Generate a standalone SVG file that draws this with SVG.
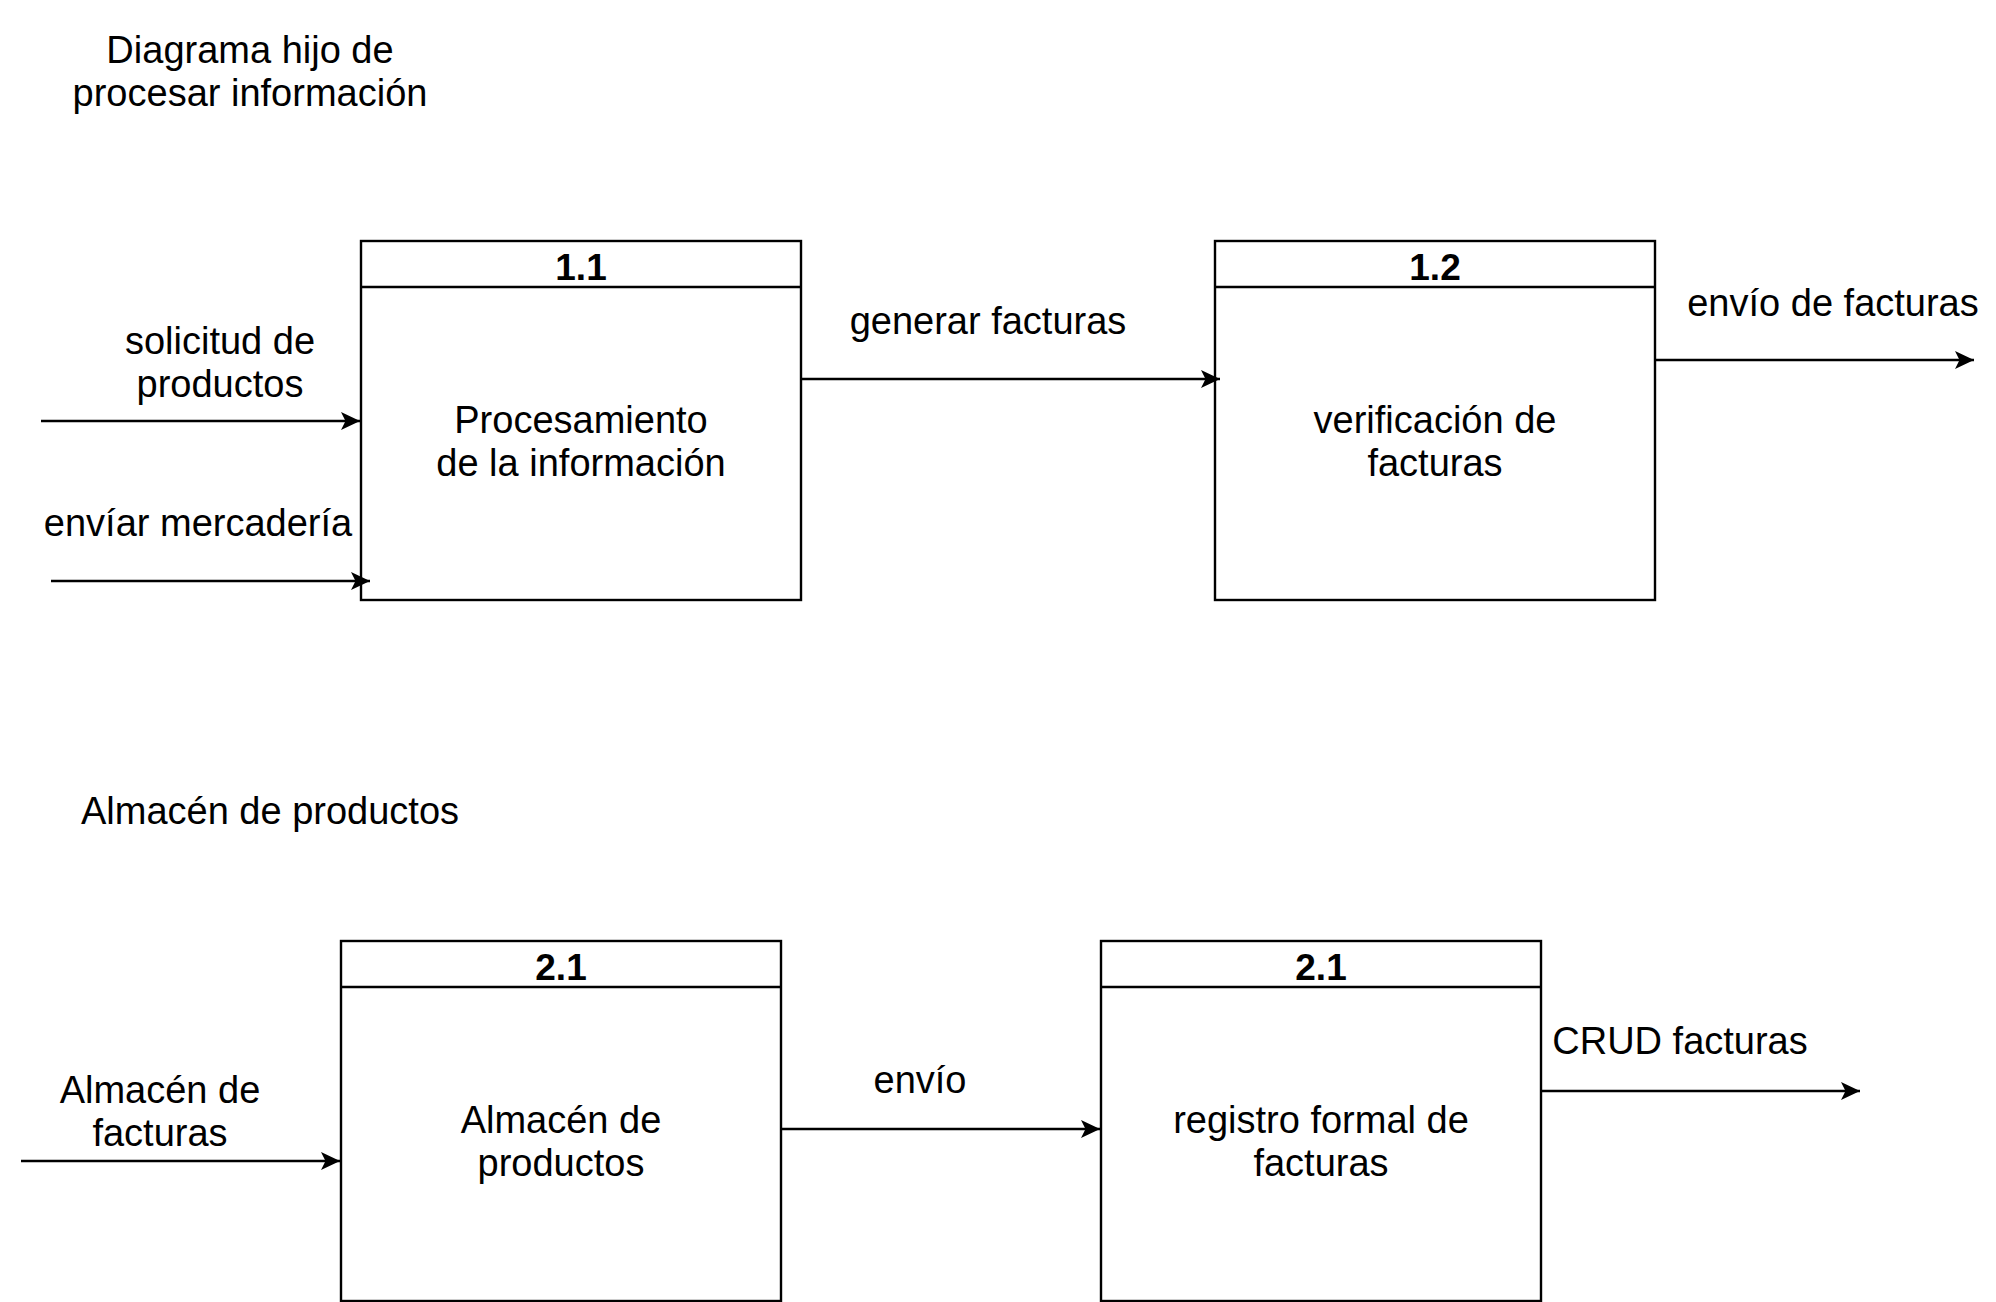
<svg xmlns="http://www.w3.org/2000/svg" width="1996" height="1302" viewBox="0 0 1996 1302">
<style>
text{font-family:"Liberation Sans",Arial,Helvetica,sans-serif;font-size:38px;fill:#000;text-anchor:middle}
.h{font-weight:bold;font-size:37px}
.box{fill:#fff;stroke:#000;stroke-width:2.4}
.edge{fill:none;stroke:#000;stroke-width:2.4}
</style>
<defs>
<marker id="arr" markerUnits="userSpaceOnUse" markerWidth="22" markerHeight="22" viewBox="0 0 22 22" refX="20" refY="11" orient="auto">
<path d="M1,2 L20,11 L1,20 L5.5,11 Z" fill="#000"/>
</marker>
</defs>
<rect width="1996" height="1302" fill="#fff"/>
<g id="title1"><text x="250" y="63">Diagrama hijo de</text><text x="250" y="106">procesar información</text></g>
<g id="title2"><text x="270" y="824">Almacén de productos</text></g>
<g id="n11">
<rect class="box" x="361" y="241" width="440" height="359"/>
<line class="edge" x1="361" y1="287" x2="801" y2="287"/>
<text class="h" x="581" y="280">1.1</text>
<text x="581" y="433">Procesamiento</text><text x="581" y="476">de la información</text>
</g>
<g id="n12">
<rect class="box" x="1215" y="241" width="440" height="359"/>
<line class="edge" x1="1215" y1="287" x2="1655" y2="287"/>
<text class="h" x="1435" y="280">1.2</text>
<text x="1435" y="433">verificación de</text><text x="1435" y="476">facturas</text>
</g>
<g id="n21">
<rect class="box" x="341" y="941" width="440" height="360"/>
<line class="edge" x1="341" y1="987" x2="781" y2="987"/>
<text class="h" x="561" y="980">2.1</text>
<text x="561" y="1133">Almacén de</text><text x="561" y="1176">productos</text>
</g>
<g id="n22">
<rect class="box" x="1101" y="941" width="440" height="360"/>
<line class="edge" x1="1101" y1="987" x2="1541" y2="987"/>
<text class="h" x="1321" y="980">2.1</text>
<text x="1321" y="1133">registro formal de</text><text x="1321" y="1176">facturas</text>
</g>
<g id="edges">
<line class="edge" x1="41" y1="421" x2="360" y2="421" marker-end="url(#arr)"/>
<line class="edge" x1="51" y1="581" x2="370" y2="581" marker-end="url(#arr)"/>
<line class="edge" x1="801" y1="379" x2="1220" y2="379" marker-end="url(#arr)"/>
<line class="edge" x1="1655" y1="360" x2="1974" y2="360" marker-end="url(#arr)"/>
<line class="edge" x1="21" y1="1161" x2="340" y2="1161" marker-end="url(#arr)"/>
<line class="edge" x1="781" y1="1129" x2="1100" y2="1129" marker-end="url(#arr)"/>
<line class="edge" x1="1541" y1="1091" x2="1860" y2="1091" marker-end="url(#arr)"/>
</g>
<g id="labels">
<text x="220" y="354">solicitud de</text><text x="220" y="397">productos</text>
<text x="198" y="536">envíar mercadería</text>
<text x="988" y="334">generar facturas</text>
<text x="1833" y="316">envío de facturas</text>
<text x="160" y="1103">Almacén de</text><text x="160" y="1146">facturas</text>
<text x="920" y="1093">envío</text>
<text x="1680" y="1054">CRUD facturas</text>
</g>
</svg>
